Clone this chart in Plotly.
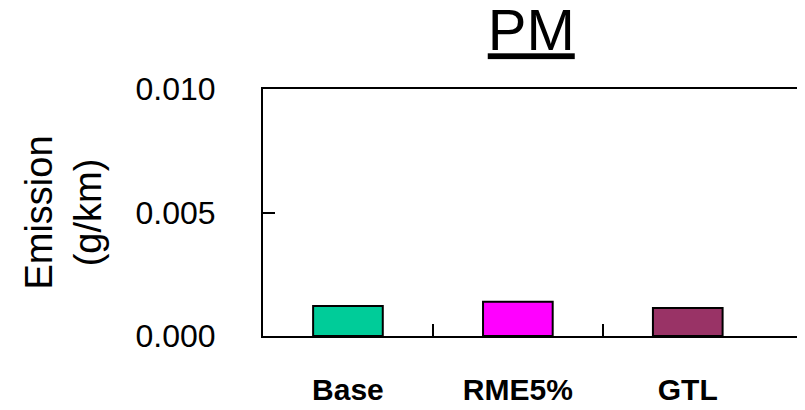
import plotly.graph_objects as go

# PM emission per fuel
fuels = ['Base', 'RME5%', 'GTL']
pm_emission = [0.00121, 0.00139, 0.00113]
bar_colors = ['#00CC99', '#FF00FF', '#993366']
boundary_ticks = [0.5, 1.5]

fig = go.Figure()
fig.add_trace(go.Bar(x=fuels, y=pm_emission, width=0.41,
                     marker=dict(color=bar_colors, line=dict(color='black', width=2))))
# invisible helper trace so the overlay axis holding the boundary ticks is drawn
fig.add_trace(go.Scatter(x=[0], y=[0], xaxis='x2', mode='markers',
                         marker=dict(opacity=0), hoverinfo='skip'))

fig.update_layout(
    width=805, height=410,
    margin=dict(l=255, r=8, t=81, b=82, autoexpand=False),
    paper_bgcolor='white', plot_bgcolor='white',
    font=dict(family='Liberation Sans, Arial', color='black'),
    showlegend=False,
    title=dict(text='<u>PM</u>', font=dict(size=58), x=0.65, xanchor='center',
               y=1 - 22 / 410, yanchor='middle', automargin=False),
    xaxis2=dict(overlaying='x', side='bottom', range=[-0.5, 2.69], ticks='inside',
                tickvals=boundary_ticks, ticklen=12, tickwidth=2, tickcolor='black',
                showticklabels=False, showgrid=False, zeroline=False, showline=False,
                automargin=False),
)

fig.layout.xaxis.update(range=[-0.5, 2.69], showline=True, linecolor='black', linewidth=2,
                        mirror=True, ticks='', ticklabelstandoff=26, automargin=False,
                        tickfont=dict(size=30, family='Liberation Sans, Arial', weight='bold'),
                        showgrid=False)

fig.update_yaxes(range=[0, 0.010], tickvals=[0, 0.005, 0.010],
                 ticktext=['0.000', '0.005', '0.010'],
                 showline=True, linecolor='black', linewidth=2, ticks='inside',
                 ticklen=12, tickwidth=2, tickcolor='black', ticklabelstandoff=39,
                 tickfont=dict(size=32), showgrid=False, zeroline=False, automargin=False,
                 title=dict(text='Emission<br>(g/km)', font=dict(size=38), standoff=22))

fig.write_html("out.html")
